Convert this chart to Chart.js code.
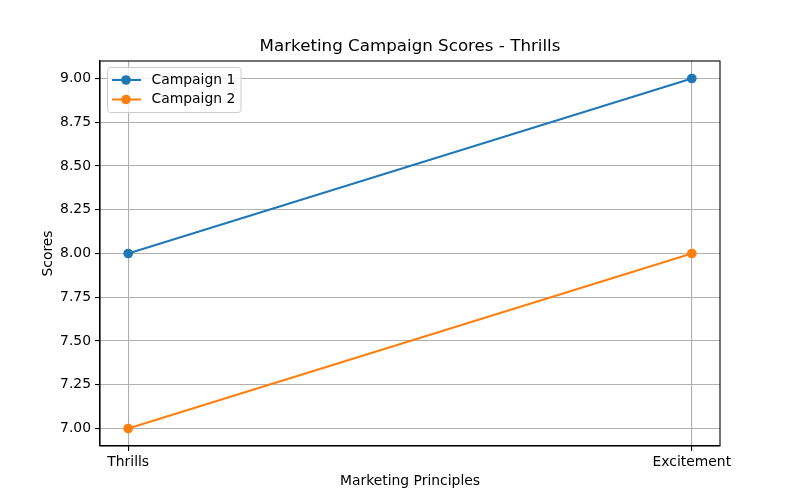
<!DOCTYPE html>
<html>
<head>
<meta charset="utf-8">
<script src="https://cdn.jsdelivr.net/npm/chart.js@4"></script>
<style>
  html, body { margin: 0; padding: 0; background: #ffffff; }
  #wrap { width: 800px; height: 500px; }
</style>
</head>
<body>
<div id="wrap"><canvas id="c" width="800" height="500"></canvas></div>
<script>
const categories = ["Thrills", "Excitement"];
const campaign1 = [8, 9];
const campaign2 = [7, 8];
const seriesNames = ["Campaign 1", "Campaign 2"];
const yTicks = [7.00, 7.25, 7.50, 7.75, 8.00, 8.25, 8.50, 8.75, 9.00];
const titleText = "Marketing Campaign Scores - Thrills";
const xTitle = "Marketing Principles";
const yTitle = "Scores";

const colors = ["#1f77b4", "#ff7f0e"];
const FONT = "'DejaVu Sans', sans-serif";

function toPoints(vals) { return vals.map((v, i) => ({ x: i, y: v })); }

const frameAndLegend = {
  id: 'frameAndLegend',
  afterDraw(chart) {
    const ctx = chart.ctx, a = chart.chartArea;
    ctx.save();
    // title centred over the plot area
    ctx.fillStyle = '#000000';
    ctx.font = "16.7px " + FONT;
    ctx.textAlign = 'center';
    ctx.textBaseline = 'middle';
    ctx.fillText(chart.options.plugins.title.text, (a.left + a.right) / 2, 46.5);
    // frame
    ctx.strokeStyle = '#000000';
    ctx.lineWidth = 1.1;
    ctx.strokeRect(a.left, a.top, a.right - a.left, a.bottom - a.top);
    // legend
    const lx = a.left + 7.5, ly = a.top + 6.5, lw = 133.5, lh = 45;
    const r = 3;
    ctx.globalAlpha = 0.8;
    ctx.fillStyle = '#ffffff';
    ctx.beginPath();
    ctx.moveTo(lx + r, ly);
    ctx.lineTo(lx + lw - r, ly); ctx.arcTo(lx + lw, ly, lx + lw, ly + r, r);
    ctx.lineTo(lx + lw, ly + lh - r); ctx.arcTo(lx + lw, ly + lh, lx + lw - r, ly + lh, r);
    ctx.lineTo(lx + r, ly + lh); ctx.arcTo(lx, ly + lh, lx, ly + lh - r, r);
    ctx.lineTo(lx, ly + r); ctx.arcTo(lx, ly, lx + r, ly, r);
    ctx.closePath();
    ctx.fill();
    ctx.globalAlpha = 1;
    ctx.strokeStyle = '#cccccc';
    ctx.lineWidth = 1;
    ctx.stroke();
    chart.data.datasets.forEach((ds, i) => {
      const yy = ly + 12.5 + i * 19.5;
      ctx.strokeStyle = ds.borderColor;
      ctx.lineWidth = 2;
      ctx.beginPath();
      ctx.moveTo(lx + 4.5, yy); ctx.lineTo(lx + 33.5, yy);
      ctx.stroke();
      ctx.fillStyle = ds.borderColor;
      ctx.beginPath();
      ctx.arc(lx + 18.5, yy, 4.8, 0, Math.PI * 2);
      ctx.fill();
      ctx.fillStyle = '#000000';
      ctx.font = "13.9px " + FONT;
      ctx.textBaseline = 'middle';
      ctx.textAlign = 'left';
      ctx.fillText(ds.label, lx + 44, yy);
    });
    ctx.restore();
  }
};

new Chart(document.getElementById('c'), {
  type: 'line',
  data: {
    datasets: [
      { label: seriesNames[0], data: toPoints(campaign1), borderColor: colors[0], backgroundColor: colors[0],
        borderWidth: 2, pointRadius: 4.2, pointHoverRadius: 4.2, pointBorderWidth: 1.3, fill: false, tension: 0 },
      { label: seriesNames[1], data: toPoints(campaign2), borderColor: colors[1], backgroundColor: colors[1],
        borderWidth: 2, pointRadius: 4.2, pointHoverRadius: 4.2, pointBorderWidth: 1.3, fill: false, tension: 0 }
    ]
  },
  options: {
    responsive: false,
    animation: false,
    devicePixelRatio: 1,
    layout: { padding: { left: 40, right: 80, top: 61, bottom: 10 } },
    plugins: {
      legend: { display: false },
      tooltip: { enabled: false },
      title: { display: false, text: titleText }
    },
    scales: {
      x: {
        type: 'linear', min: -0.05, max: 1.05,
        afterBuildTicks(scale) { scale.ticks = categories.map((c, i) => ({ value: i })); },
        afterFit(scale) { scale.height = 44; },
        ticks: {
          color: '#000000', font: { family: FONT, size: 13.9 }, padding: 3, maxRotation: 0, autoSkip: false,
          callback: (v) => categories[v] !== undefined ? categories[v] : ''
        },
        grid: { color: '#b0b0b0', lineWidth: 1.1, tickColor: '#000000', tickLength: 5, drawTicks: true },
        border: { display: true, color: '#000000', width: 1.1 },
        title: { display: true, text: xTitle, color: '#000000', font: { family: FONT, size: 13.9 }, padding: { top: 4, bottom: 0 } }
      },
      y: {
        type: 'linear', min: 6.9, max: 9.1,
        afterBuildTicks(scale) { scale.ticks = yTicks.map(v => ({ value: v })); },
        afterFit(scale) { scale.width = 60; },
        ticks: {
          color: '#000000', font: { family: FONT, size: 13.9 }, padding: 4,
          callback: (v) => Number(v).toFixed(2)
        },
        grid: { color: '#b0b0b0', lineWidth: 1.1, tickColor: '#000000', tickLength: 5, drawTicks: true },
        border: { display: true, color: '#000000', width: 1.1 },
        title: { display: true, text: yTitle, color: '#000000', font: { family: FONT, size: 13.9 }, padding: { top: 0, bottom: 0 } }
      }
    }
  },
  plugins: [frameAndLegend]
});
</script>
</body>
</html>
